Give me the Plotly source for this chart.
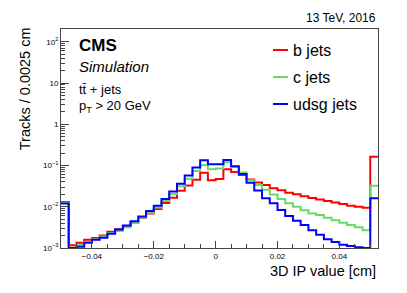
import numpy as np
import plotly.graph_objects as go

# ---- data ----
bin_width = 0.0025
x_low = -0.05

b_jets = [0.013, 0.00117, 0.00134, 0.00159, 0.00174, 0.00202, 0.00249, 0.00284, 0.0034, 0.00415,
          0.0054, 0.0069, 0.0088, 0.0123, 0.0165, 0.0246, 0.0327, 0.045, 0.067, 0.044,
          0.047, 0.081, 0.070, 0.059, 0.046, 0.039, 0.0335, 0.028, 0.025, 0.022,
          0.0201, 0.018, 0.0163, 0.0151, 0.0138, 0.0126, 0.0116, 0.0106, 0.0100, 0.0094,
          0.162]
c_jets = [0.0125, 0.00102, 0.00118, 0.0014, 0.00162, 0.0019, 0.00232, 0.0026, 0.0032, 0.0041,
          0.0055, 0.0072, 0.0096, 0.0137, 0.0204, 0.0316, 0.0478, 0.074, 0.101, 0.081,
          0.085, 0.120, 0.092, 0.068, 0.044, 0.0335, 0.026, 0.0197, 0.0155, 0.0121,
          0.0100, 0.0082, 0.0069, 0.0063, 0.0054, 0.0047, 0.0041, 0.0036, 0.0032, 0.00268,
          0.0325]
udsg_jets = [0.012, 0.001, 0.00107, 0.00134, 0.00159, 0.00178, 0.00223, 0.0028, 0.0035, 0.00446,
             0.0058, 0.0079, 0.0106, 0.0155, 0.0233, 0.036, 0.0575, 0.089, 0.134, 0.107,
             0.108, 0.136, 0.096, 0.062, 0.038, 0.0247, 0.016, 0.0121, 0.0084, 0.006,
             0.0046, 0.0036, 0.0027, 0.0021, 0.00162, 0.0014, 0.0012, 0.00112, 0.00105, 0.001,
             0.016]

series_names = ["b jets", "c jets", "udsg jets"]
series_colors = ["#ff0000", "#66d966", "#0000ff"]

x_tickvals = [-0.04, -0.02, 0, 0.02, 0.04]
x_ticktext = ["\u22120.04", "\u22120.02", "0", "0.02", "0.04"]
y_tickvals = [1e-3, 1e-2, 1e-1, 1, 10, 100]
y_ticktext = ["10<sup>\u22123</sup>", "10<sup>\u22122</sup>", "10<sup>\u22121</sup>", "1", "10", "10<sup>2</sup>"]

# ---- figure ----
W, H = 407, 293
L, R, T, B = 61, 378, 29, 248


def px(x):
    return (x - L) / (R - L)


def py(y):
    return (B - y) / (B - T)


edges = x_low + bin_width * np.arange(len(b_jets) + 1)

fig = go.Figure()
for vals, name, color in zip([b_jets, c_jets, udsg_jets], series_names, series_colors):
    fig.add_trace(go.Scatter(
        x=edges, y=list(vals) + [vals[-1]], mode="lines",
        line=dict(color=color, width=2, shape="hv"),
        name=name, showlegend=False, hoverinfo="skip",
    ))

font = "Liberation Sans, Arial, Helvetica, sans-serif"
axcol = "#444444"

fig.update_layout(
    width=W, height=H,
    margin=dict(l=L, r=W - R, t=T, b=H - B, pad=0),
    paper_bgcolor="white", plot_bgcolor="white",
    font=dict(family=font, color="black"),
    showlegend=False,
    xaxis=dict(
        range=[x_low, x_low + bin_width * len(b_jets)],
        showgrid=False, zeroline=False,
        showline=True, mirror=True, linecolor=axcol, linewidth=1,
        ticks="inside", ticklen=7, tickcolor=axcol,
        tickmode="array", tickvals=x_tickvals, ticktext=x_ticktext,
        tickfont=dict(size=8, family=font),
        minor=dict(ticks="inside", ticklen=4, tickcolor=axcol, dtick=0.005, tick0=0, showgrid=False),
    ),
    yaxis=dict(
        type="log", range=[-3, 2.31],
        showgrid=False, zeroline=False,
        showline=True, mirror=True, linecolor=axcol, linewidth=1,
        ticks="inside", ticklen=8, tickcolor=axcol,
        tickmode="array", tickvals=y_tickvals, ticktext=y_ticktext,
        tickfont=dict(size=8, family=font),
        minor=dict(ticks="inside", ticklen=4, tickcolor=axcol, dtick="D1", showgrid=False),
    ),
)

ann = []
# axis titles
ann.append(dict(x=1, y=py(271), xref="paper", yref="paper", text="3D IP value [cm]",
                xanchor="right", yanchor="middle", showarrow=False,
                font=dict(size=14.5, family=font)))
ann.append(dict(x=px(25), y=1.015, xref="paper", yref="paper", text="Tracks / 0.0025 cm",
                textangle=-90, xanchor="center", yanchor="top", showarrow=False,
                font=dict(size=14.5, family=font)))
# top-right label
ann.append(dict(x=1, y=py(18), xref="paper", yref="paper", text="13 TeV, 2016",
                xanchor="right", yanchor="middle", showarrow=False,
                font=dict(size=12, family=font)))
# CMS labels
ann.append(dict(x=px(77), y=py(45), xref="paper", yref="paper", text="<b>CMS</b>",
                xanchor="left", yanchor="middle", showarrow=False,
                font=dict(size=17, family=font)))
ann.append(dict(x=px(77), y=py(66), xref="paper", yref="paper", text="<i>Simulation</i>",
                xanchor="left", yanchor="middle", showarrow=False,
                font=dict(size=15, family=font)))
ann.append(dict(x=px(77), y=py(89), xref="paper", yref="paper", text="tt\u0304 + jets",
                xanchor="left", yanchor="middle", showarrow=False,
                font=dict(size=13, family=font)))
ann.append(dict(x=px(77), y=py(106), xref="paper", yref="paper", text="p<sub>T</sub> &gt; 20 GeV",
                xanchor="left", yanchor="middle", showarrow=False,
                font=dict(size=13, family=font)))

# legend (manual)
shapes = []
leg_y = [50, 77, 104]
for name, color, yy in zip(series_names, series_colors, leg_y):
    shapes.append(dict(type="line", xref="paper", yref="paper",
                       x0=px(273), x1=px(288), y0=py(yy), y1=py(yy),
                       line=dict(color=color, width=2)))
    ann.append(dict(x=px(291), y=py(yy), xref="paper", yref="paper", text=name,
                    xanchor="left", yanchor="middle", showarrow=False,
                    font=dict(size=16, family=font)))

fig.update_layout(annotations=ann, shapes=shapes)
fig.write_html("out.html", config={"displayModeBar": False, "staticPlot": True},
               post_script="document.body.style.margin='0px';document.body.style.padding='0px';")
